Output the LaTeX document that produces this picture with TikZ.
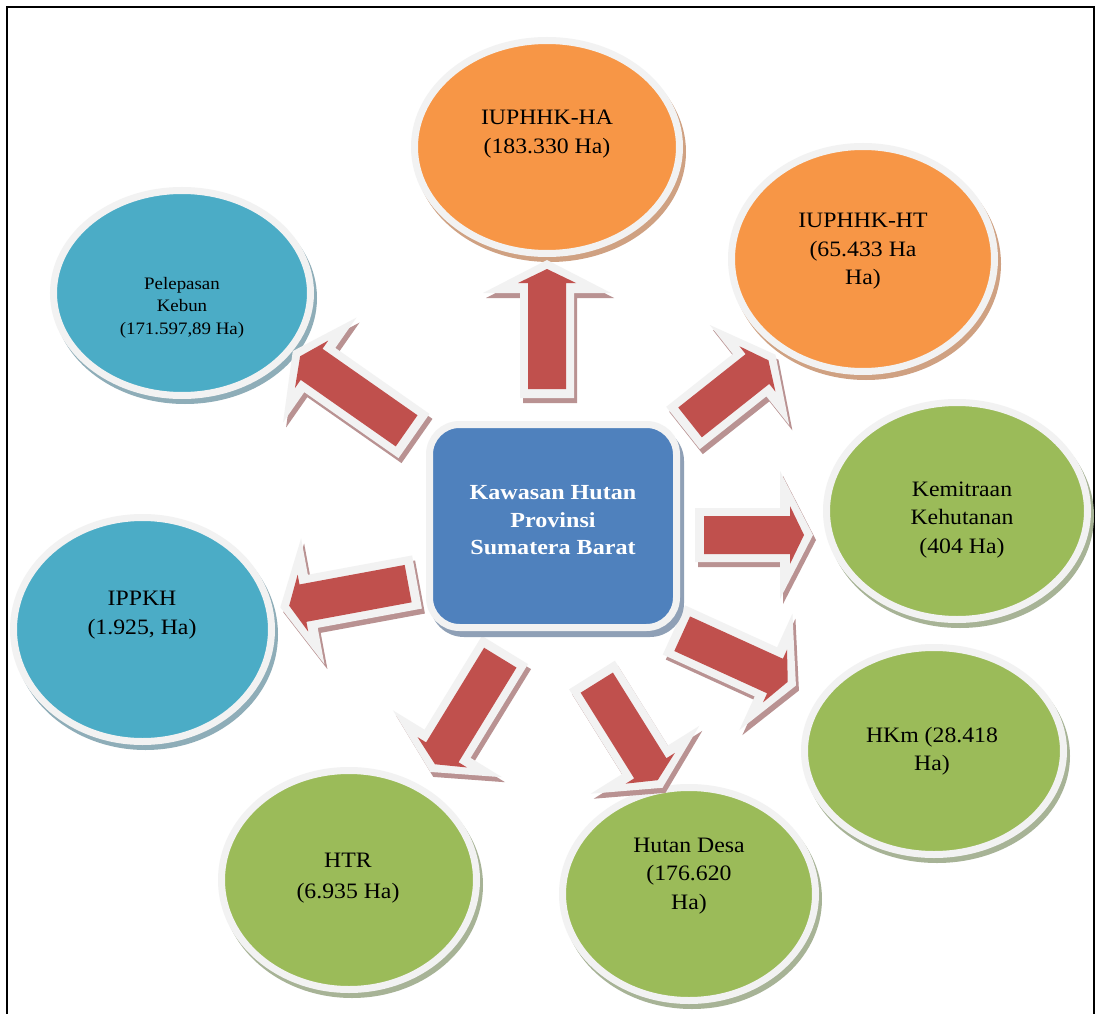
\documentclass[tikz,border=0pt]{standalone}
\usepackage{fontspec}
\setmainfont[FakeStretch=1.08]{Liberation Serif}
\newfontfamily\boxfont[FakeStretch=1.12]{Liberation Serif}
\usetikzlibrary{shapes.geometric}
\definecolor{orfill}{HTML}{F79646}
\definecolor{orshadow}{HTML}{CFA182}
\definecolor{tealfill}{HTML}{4BACC6}
\definecolor{tealshadow}{HTML}{8EADB8}
\definecolor{grfill}{HTML}{9BBB59}
\definecolor{grshadow}{HTML}{A7B396}
\definecolor{boxblue}{HTML}{4F81BD}
\definecolor{boxshadow}{HTML}{8FA0B6}
\definecolor{rimcol}{HTML}{F2F2F2}
\definecolor{arred}{HTML}{C0504D}
\definecolor{arshadow}{HTML}{B99292}
\tikzset{
  ellnode/.style={ellipse, draw=rimcol, line width=7pt, inner sep=0pt, outer sep=0pt},
  lbl/.style={align=center, font=\fontsize{22}{28.5}\selectfont, text=black, inner sep=0pt},
  smalllbl/.style={align=center, font=\fontsize{17.5}{22.5}\selectfont, text=black, inner sep=0pt},
  framestyle/.style={line width=2.5pt, draw=black},
}
% #1 name, #2 x, #3 y, #4 rx, #5 ry, #6 fill, #7 shadow colour
\newcommand{\bubble}[7]{%
  \fill[#7] (#2+3,#3+5) ellipse [x radius=#4pt, y radius=#5pt];
  \node[ellnode, fill=#6, minimum width=2*#4-7, minimum height=2*#5-7] (#1) at (#2,#3) {};
}
% #1 base coordinate, #2 angle, #3 length
\newcommand{\blockarrow}[3]{%
  \begin{scope}[shift={(#1)}, xshift=3pt, yshift=-5pt, rotate=#2]
    \fill[arshadow] (0,27) -- (#3-33,27) -- (#3-33,64) -- (#3,0) -- (#3-33,-64) -- (#3-33,-27) -- (0,-27) -- cycle;
  \end{scope}
  \begin{scope}[shift={(#1)}, rotate=#2]
    \fill[rimcol] (0,27) -- (#3-33,27) -- (#3-33,64) -- (#3,0) -- (#3-33,-64) -- (#3-33,-27) -- (0,-27) -- cycle;
    \fill[arred] (9,19) -- (#3-23,19) -- (#3-23,29) -- (#3-9,0) -- (#3-23,-29) -- (#3-23,-19) -- (9,-19) -- cycle;
  \end{scope}
}
\begin{document}
\begin{tikzpicture}[x=1pt, y=-1pt]
\useasboundingbox (0,0) rectangle (1096,1014);
\fill[white] (0,0) rectangle (1096,1014);
\draw[framestyle] (7,1014) -- (7,7) -- (1094,7) -- (1094,1014);

% bubbles
\bubble{HA}{547}{147}{136}{110}{orfill}{orshadow}
\bubble{HT}{863}{259}{135}{116}{orfill}{orshadow}
\bubble{PK}{182}{293}{132}{106}{tealfill}{tealshadow}
\bubble{KK}{957}{511}{134}{112}{grfill}{grshadow}
\bubble{IP}{142.5}{629.5}{132.5}{115.5}{tealfill}{tealshadow}
\bubble{HK}{934}{751}{133}{107}{grfill}{grshadow}
\bubble{HR}{349}{880}{131}{113}{grfill}{grshadow}
\bubble{HD}{689}{894}{130}{110}{grfill}{grshadow}

% arrow bases
\coordinate (a1) at (547,398);
\coordinate (a2) at (683,428);
\coordinate (a3) at (695,535);
\coordinate (a4) at (674,630);
\coordinate (a5) at (592,675);
\coordinate (a6) at (505,650);
\coordinate (a7) at (417,582);
\coordinate (a8) at (414,436);
\blockarrow{a1}{90}{138}
\blockarrow{a2}{38.4}{118}
\blockarrow{a3}{0}{118}
\blockarrow{a4}{335.5}{134}
\blockarrow{a5}{302}{133}
\blockarrow{a6}{238.5}{143}
\blockarrow{a7}{190.5}{139}
\blockarrow{a8}{145}{148}

% centre box
\fill[boxshadow, rounded corners=34pt] (430,427) rectangle (684,637);
\node[draw=rimcol, line width=7pt, fill=boxblue, rounded corners=30pt, minimum width=247pt, minimum height=203pt, inner sep=0pt] (KH) at (553,526) {};
\node[text=white, align=center, inner sep=0pt, font=\boxfont\bfseries\fontsize{21.5}{27.5}\selectfont] (tKH) at (553,520.5) {Kawasan Hutan\\Provinsi\\Sumatera Barat};

% labels
\node[lbl] (tHA) at (547,134) {IUPHHK-HA\\(183.330 Ha)};
\node[lbl] (tHT) at (863,251.5) {IUPHHK-HT\\(65.433 Ha\\Ha)};
\node[smalllbl] (tPK) at (182,307.5) {Pelepasan\\Kebun\\(171.597,89 Ha)};
\node[lbl] (tKK) at (962,520) {Kemitraan\\Kehutanan\\(404 Ha)};
\node[lbl] (tIP) at (142,615) {IPPKH\\(1.925, Ha)};
\node[lbl] (tHK) at (932,751) {HKm (28.418\\Ha)};
\node[lbl] (tHR) at (348,878) {HTR\\[2.5pt](6.935 Ha)};
\node[lbl] (tHD) at (689,876) {Hutan Desa\\(176.620\\Ha)};
\end{tikzpicture}
\end{document}
